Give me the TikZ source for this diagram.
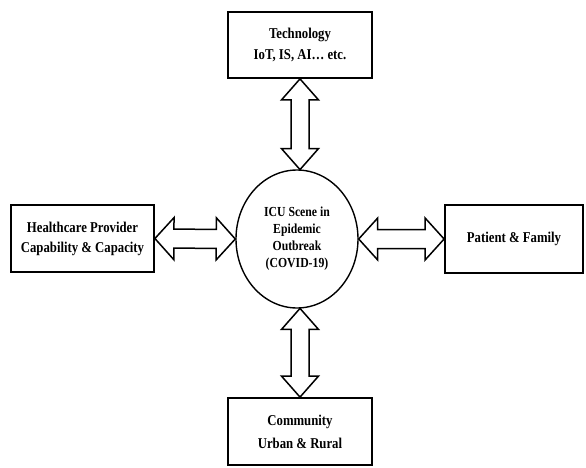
\documentclass[tikz,border=0pt]{standalone}
\usepackage{fontspec}
\setmainfont{Liberation Serif}[FakeStretch=0.85]
\usetikzlibrary{calc,shapes.geometric}
\newcommand\dblarr[5]{% from, to, head length, head half-width, shaft half-width
 \draw[arr] (#1) -- ($(#1)!#3!(#2)!#4!90:(#2)$) -- ($(#1)!#3!(#2)!#5!90:(#2)$)
  -- ($(#2)!#3!(#1)!#5!-90:(#1)$) -- ($(#2)!#3!(#1)!#4!-90:(#1)$) -- (#2)
  -- ($(#2)!#3!(#1)!#4!90:(#1)$) -- ($(#2)!#3!(#1)!#5!90:(#1)$)
  -- ($(#1)!#3!(#2)!#5!-90:(#2)$) -- ($(#1)!#3!(#2)!#4!-90:(#2)$) -- cycle;}
\begin{document}
\begin{tikzpicture}[x=1pt,y=-1pt,
  box/.style={draw,line width=1.8pt,rectangle,inner sep=0pt,align=center,
    font=\fontsize{15}{17}\selectfont\bfseries},
  arr/.style={draw,line width=1.5pt,line join=miter,fill=white}]
\useasboundingbox (0,0) rectangle (586,468);
\node[box,minimum width=144pt,minimum height=66pt] (tech) at (300,45)
  {Technology\\[4pt]IoT, IS, AI\ldots\ etc.};
\node[box,minimum width=143pt,minimum height=67pt] (hcp) at (82.5,238.5)
  {Healthcare Provider\\[3pt]Capability \& Capacity};
\node[box,minimum width=138pt,minimum height=68pt] (pat) at (514,239)
  {Patient \& Family};
\node[box,minimum width=144pt,minimum height=67pt] (com) at (300,431.5)
  {Community\\[6pt]Urban \& Rural};
\node[ellipse,draw,line width=1.4pt,minimum width=122pt,minimum height=138pt,
  inner sep=0pt,align=center,font=\fontsize{13.8}{17}\selectfont\bfseries] (icu) at (297,239)
  {ICU Scene in\\Epidemic\\Outbreak\\(COVID-19)};
\coordinate (ta) at (tech.south);
\coordinate (tb) at ($(icu.north)+(3,0.3)$);
\coordinate (ba) at ($(icu.south)+(3,-0.3)$);
\coordinate (bb) at (com.north);
\dblarr{ta}{tb}{21pt}{18.5pt}{9pt}
\dblarr{ba}{bb}{21pt}{18.5pt}{9pt}
\dblarr{hcp.east}{icu.west}{19pt}{21pt}{9.5pt}
\dblarr{icu.east}{pat.west}{19pt}{21pt}{9.5pt}
\end{tikzpicture}
\end{document}
